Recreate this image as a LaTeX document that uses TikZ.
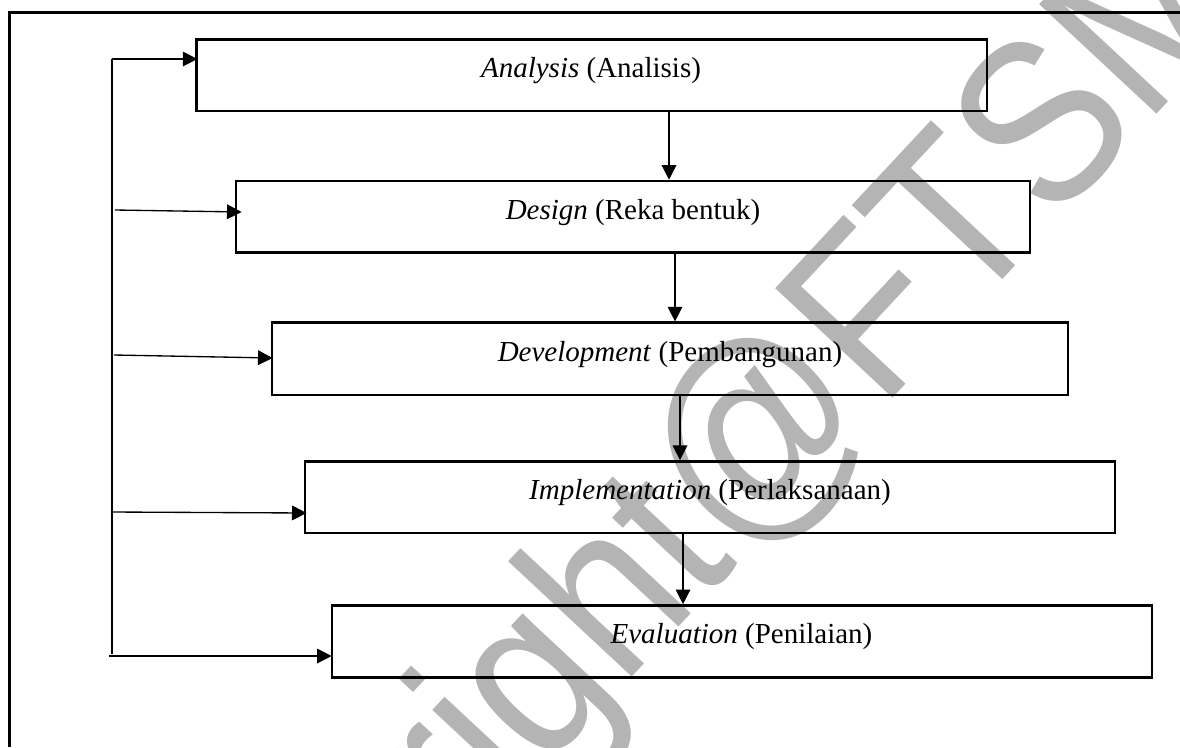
\documentclass[tikz,border=0pt]{standalone}
\usepackage{fontspec}
\setmainfont{Liberation Serif}
\newfontfamily\wmfont{Liberation Sans}
\usetikzlibrary{arrows.meta,calc}
\definecolor{wmgray}{RGB}{180,180,180}
\begin{document}
\begin{tikzpicture}[x=0.75pt,y=-0.75pt,
  stagebox/.style={draw,line width=2pt,rectangle,inner sep=0pt},
  lbl/.style={inner sep=0pt,anchor=base,font=\fontsize{21.75}{26}\selectfont},
  conn/.style={line width=1pt},
  arr/.style={line width=1pt,-{Triangle[length=11pt,width=11pt]}},
  frameline/.style={line width=2.2pt}]
\useasboundingbox (0,0) rectangle (1180,747);
% watermark
\node[text=wmgray,rotate=47,xscale=0.88,inner sep=0pt,font=\wmfont\fontsize{175}{175}\selectfont] (wm) at (657,562) {Copyright@FTSM};
% outer frame
\coordinate (fb) at (9.3,747);
\coordinate (fc) at (9.3,12.3);
\coordinate (fr) at (1180,12.3);
\draw[frameline] (fb) -- (fc) -- (fr);
% boxes
\node[stagebox,minimum width={790.3*0.75pt},minimum height={71.7*0.75pt}] (a1) at (591.9,75.2) {};
\node[stagebox,minimum width={794*0.75pt},minimum height={71.7*0.75pt}] (a2) at (633,216.9) {};
\node[stagebox,minimum width={796*0.75pt},minimum height={72.3*0.75pt}] (a3) at (670,358.9) {};
\node[stagebox,minimum width={810*0.75pt},minimum height={71.5*0.75pt}] (a4) at (710,497.2) {};
\node[stagebox,minimum width={820*0.75pt},minimum height={72*0.75pt}] (a5) at (742,641.5) {};
% labels
\node[lbl] (t1) at (591,77) {\textit{Analysis} (Analisis)};
\node[lbl] (t2) at (633,219) {\textit{Design} (Reka bentuk)};
\node[lbl] (t3) at (670,361) {\textit{Development} (Pembangunan)};
\node[lbl] (t4) at (710,499) {\textit{Implementation} (Perlaksanaan)};
\node[lbl] (t5) at (741.5,643) {\textit{Evaluation} (Penilaian)};
% downward arrows
\coordinate (v1) at (669,0);
\coordinate (v2) at (675,0);
\coordinate (v3) at (680,0);
\coordinate (v4) at (683,0);
\draw[arr] (a1.south -| v1) -- (a2.north -| v1);
\draw[arr] (a2.south -| v2) -- (a3.north -| v2);
\draw[arr] (a3.south -| v3) -- (a4.north -| v3);
\draw[arr] (a4.south -| v4) -- (a5.north -| v4);
% feedback line
\coordinate (L1) at (112,59);
\coordinate (L2) at (115,210);
\coordinate (L3) at (114,355);
\coordinate (L4) at (112,512);
\coordinate (L5) at (109,656);
\coordinate (Lb) at (112,654);
\draw[conn] (L1) -- (Lb);
\draw[arr] (L1) -- ([shift={(2,-16.2)}]a1.west);
\draw[arr] (L2) -- ([shift={(7,-4.9)}]a2.west);
\draw[arr] (L3) -- ([shift={(2,-0.9)}]a3.west);
\draw[arr] (L4) -- ([shift={(3,15.8)}]a4.west);
\draw[arr] (L5) -- ([shift={(1,14.5)}]a5.west);
\end{tikzpicture}
\end{document}
